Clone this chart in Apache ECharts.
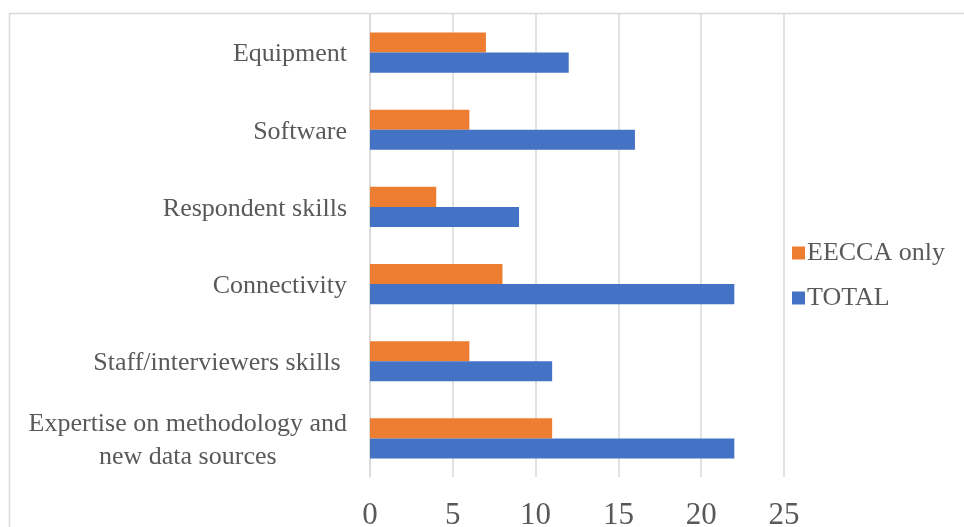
<!DOCTYPE html>
<html>
<head>
<meta charset="utf-8">
<script src="https://cdn.jsdelivr.net/npm/echarts@6/dist/echarts.min.js"></script>
<style>
  html, body { margin: 0; padding: 0; background: #fff; }
  #chart { width: 964px; height: 527px; }
</style>
</head>
<body>
<div id="chart"></div>
<script>
// bottom to top, as on the axis
const categories = [
  'Expertise on methodology and\nnew data sources',
  'Staff/interviewers skills ',
  'Connectivity',
  'Respondent skills',
  'Software',
  'Equipment'
]
const totalValues = [22, 11, 22, 9, 16, 12]
const eeccaValues = [11, 6, 8, 4, 6, 7]
const tickValues = [0, 5, 10, 15, 20, 25]

const font = '"Liberation Serif", "Times New Roman", serif'
const textColor = '#595959'
const gridColor = '#d9d9d9'

const chart = echarts.init(document.getElementById('chart'))

const option = {
  animation: false,
  textStyle: { fontFamily: font },
  graphic: [
    {
      type: 'rect',
      shape: { x: 9.5, y: 13.5, width: 1000, height: 600 },
      style: { fill: 'none', stroke: gridColor, lineWidth: 1.5 },
      z: -1
    }
  ],
  grid: {
    left: 370,
    right: 180,
    top: 14,
    bottom: 50,
    outerBoundsMode: 'none'
  },
  legend: {
    orient: 'vertical',
    left: 787,
    top: 235,
    itemWidth: 13,
    itemHeight: 13,
    itemGap: 19,
    icon: 'rect',
    data: ['EECCA only', 'TOTAL'],
    textStyle: { fontFamily: font, fontSize: 26, color: textColor, padding: [0, 0, 0, -3] }
  },
  xAxis: {
    type: 'value',
    min: tickValues[0],
    max: tickValues[tickValues.length - 1],
    interval: 5,
    axisLine: { show: false },
    axisTick: { show: false },
    splitLine: { lineStyle: { color: gridColor, width: 1.5 } },
    axisLabel: {
      margin: 23,
      fontFamily: font,
      fontSize: 31,
      color: textColor
    }
  },
  yAxis: {
    type: 'category',
    data: categories,
    axisLine: { show: true, lineStyle: { color: gridColor, width: 1.5 } },
    axisTick: { show: false },
    axisLabel: {
      margin: 23,
      padding: [4, 0, 0, 0],
      fontFamily: font,
      fontSize: 26,
      color: textColor,
      formatter: (v) => {
        if (v.indexOf('\n') < 0) return v
        return v.split('\n').map(s => '{c|' + s + '}').join('\n')
      },
      rich: {
        c: {
          align: 'center',
          fontFamily: font,
          fontSize: 26,
          color: textColor,
          lineHeight: 33
        }
      }
    }
  },
  series: [
    {
      name: 'EECCA only',
      type: 'bar',
      data: eeccaValues,
      barGap: '0%',
      barCategoryGap: '48%',
      itemStyle: { color: '#ED7D31' }
    },
    {
      name: 'TOTAL',
      type: 'bar',
      data: totalValues,
      barGap: '0%',
      barCategoryGap: '48%',
      itemStyle: { color: '#4472C4' }
    }
  ]
}

chart.setOption(option)
</script>
</body>
</html>
